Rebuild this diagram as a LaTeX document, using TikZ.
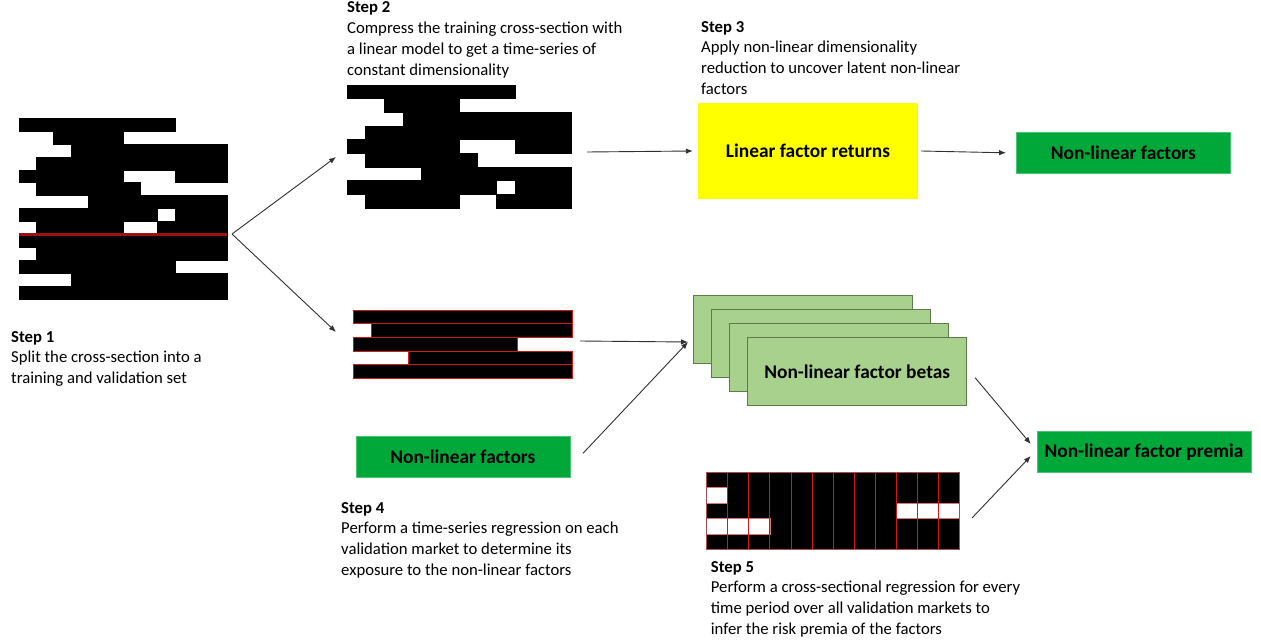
\documentclass[tikz,border=0pt]{standalone}
\usepackage{fontspec}
\setmainfont{Carlito}
\usepackage{xcolor}
\usepackage{tikz}
\usetikzlibrary{arrows.meta, positioning}
\definecolor{factorgreen}{HTML}{00A83A}
\definecolor{betagreen}{HTML}{A9D18E}
\definecolor{betaedge}{HTML}{5E7A48}
\definecolor{returnyellow}{HTML}{FFFF00}
\definecolor{gridred}{HTML}{D01818}
\definecolor{splitred}{HTML}{A00F0F}
\definecolor{arrowgray}{HTML}{303030}

% black runs per row: row/first column/last column
\newcommand{\trainruns}{0/0/8, 1/2/5, 2/3/11, 3/1/11, 4/0/5, 4/9/11, 5/1/6,
  6/4/11, 7/0/7, 7/9/11, 8/1/5, 8/8/11}
\newcommand{\validruns}{0/0/11, 1/1/11, 2/0/8, 3/3/11, 4/0/11}
\newcommand{\validgaps}{1/0/0, 2/9/11, 3/0/2}

\begin{document}
\begin{tikzpicture}[x=1pt, y=-1pt,
  box/.style={rectangle, inner sep=0pt, font=\fontsize{19.4}{23}\selectfont\bfseries,
              text=black},
  factorbox/.style={box, fill=factorgreen, draw=factorgreen!70!white,
                    minimum width=214pt, minimum height=41pt},
  betabox/.style={box, fill=betagreen, draw=betaedge, line width=0.8pt,
                  minimum width=219pt, minimum height=68pt},
  stepnote/.style={anchor=north west, inner sep=0pt, align=left,
                   font=\fontsize{16.7}{20.8}\selectfont},
  flow/.style={-{Latex[length=7pt, width=5.5pt]}, draw=arrowgray, line width=0.9pt},
  cell/.style={fill=black, draw=black, line width=0.4pt},
  runcell/.style={fill=black, draw=gridred, line width=0.6pt}
]
\useasboundingbox (0,0) rectangle (1261,642);

% Step 1: full cross-section
\foreach \r/\a/\b in \trainruns
  \draw[cell] (19+\a*17.33, 118+\r*12.93) rectangle (19+\b*17.33+17.33, 118+\r*12.93+12.93);
\foreach \r/\a/\b in \validruns
  \draw[cell] (19+\a*17.33, 234.4+\r*12.93) rectangle (19+\b*17.33+17.33, 234.4+\r*12.93+12.93);
\draw[splitred, line width=3pt] (19,234.4) -- (227,234.4);

% Step 2: training set
\foreach \r/\a/\b in \trainruns
  \draw[cell] (347+\a*18.67, 85+\r*13.67) rectangle (347+\b*18.67+18.67, 85+\r*13.67+13.67);

% Step 4: validation set
\foreach \r/\a/\b in \validruns
  \draw[runcell] (353.3+\a*18.25, 310+\r*13.67) rectangle (353.3+\b*18.25+18.25, 310+\r*13.67+13.67);

% Step 5: validation set per period
\fill (706.7,472.3) rectangle (959.3,549.3);
\foreach \r/\a/\b in \validgaps
  \draw[fill=white, draw=gridred!60, line width=0.6pt]
    (706.7+\a*21.05, 472.3+\r*15.4) rectangle (706.7+\b*21.05+21.05, 472.3+\r*15.4+15.4);
\foreach \k in {0,...,12}
  \draw[gridred, line width=0.8pt] (706.7+\k*21.05, 472.3) -- (706.7+\k*21.05, 549.3);
\draw[gridred!50!gray, line width=0.6pt] (706.7,472.3) rectangle (959.3,549.3);

% Boxes
\node[box, fill=returnyellow, minimum width=220pt, minimum height=96pt] (linret)
      at (808,151) {Linear factor returns};
\node[factorbox] (nlf) at (1123.3,152.8) {Non-linear factors};
\node[factorbox] (nlfval) at (462.8,456.3) {Non-linear factors};
\node[factorbox] (premia) at (1144,452) {Non-linear factor premia};

\node[betabox] (beta1) at (802.5,329.3) {};
\node[betabox] (beta2) at (820.8,343.4) {};
\node[betabox] (beta3) at (839.0,357.5) {};
\node[betabox] (beta4) at (857.2,371.7) {Non-linear factor betas};

% Step texts
\node[stepnote] (note1) at (11,331) {\textbf{Step 1}\\Split the cross-section into a\\training and validation set};
\node[stepnote] (note2) at (347,1.5) {\textbf{Step 2}\\Compress the training cross-section with\\a linear model to get a time-series of\\constant dimensionality};
\node[stepnote] (note3) at (701,21) {\textbf{Step 3}\\Apply non-linear dimensionality\\reduction to uncover latent non-linear\\factors};
\node[stepnote] (note4) at (341,502) {\textbf{Step 4}\\Perform a time-series regression on each\\validation market to determine its\\exposure to the non-linear factors};
\node[stepnote] (note5) at (710.7,561) {\textbf{Step 5}\\Perform a cross-sectional regression for every\\time period over all validation markets to\\infer the risk premia of the factors};

% Arrow ends
\coordinate (split) at (232,234);
\coordinate (trainin) at (336,157);
\coordinate (validin) at (336,332);
\coordinate (trainout) at (587,152);
\coordinate (validout) at (580,341);
\coordinate (betain) at (688,342);
\coordinate (gridout) at (972,518);

% Flow
\draw[flow] (split) -- (trainin);
\draw[flow] (split) -- (validin);
\draw[flow] (trainout) -- ([xshift=-5pt]linret.west);
\draw[flow] ([xshift=3pt]linret.east) -- ([xshift=-10pt]nlf.west);
\draw[flow] (validout) -- (betain);
\draw[flow] ([shift={(13,-3)}]nlfval.east) -- (betain);
\draw[flow] ([shift={(8,6)}]beta4.east) -- ([shift={(-6,-8)}]premia.west);
\draw[flow] (gridout) -- ([shift={(-6,4)}]premia.west);

\end{tikzpicture}
\end{document}
